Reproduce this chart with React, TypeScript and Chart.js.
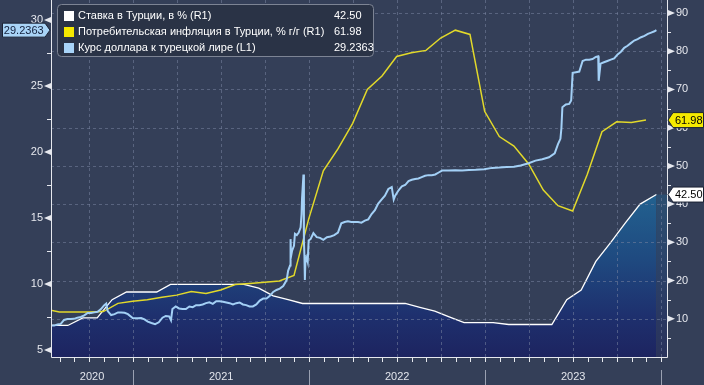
import React, { useEffect, useRef } from 'react';
import { Chart, registerables } from 'chart.js';

Chart.register(...registerables);

// ---------------- DATA ----------------
const seriesNames = [
  'Ставка в Турции, в % (R1)',
  'Потребительская инфляция в Турции, % г/г (R1)',
  'Курс доллара к турецкой лире (L1)',
];

const rateDates = [
  '2020-07-13', '2020-07-18', '2020-08-18', '2020-09-18', '2020-10-18', '2020-11-18', '2020-12-18',
  '2021-01-18', '2021-02-18', '2021-03-18', '2021-04-18', '2021-05-18', '2021-06-18', '2021-07-18',
  '2021-08-18', '2021-09-18', '2021-10-18', '2021-11-18', '2021-12-18',
  '2022-01-18', '2022-02-18', '2022-03-18', '2022-04-18', '2022-05-18', '2022-06-18', '2022-07-18',
  '2022-08-18', '2022-09-18', '2022-10-18', '2022-11-18', '2022-12-18',
  '2023-01-18', '2023-02-18', '2023-03-18', '2023-04-18', '2023-05-18', '2023-06-18', '2023-07-18',
  '2023-08-18', '2023-09-18', '2023-10-18', '2023-11-18', '2023-12-22',
];
const rateValues = [
  8.25, 8.25, 8.25, 10.25, 10.25, 15, 17,
  17, 17, 19, 19, 19, 19, 19,
  19, 18, 16, 15, 14,
  14, 14, 14, 14, 14, 14, 14,
  13, 12, 10.5, 9, 9,
  9, 8.5, 8.5, 8.5, 8.5, 15, 17.5,
  25, 30, 35, 40, 42.5,
];

const cpiDates = [
  '2020-06-30', '2020-07-31', '2020-08-31', '2020-09-30', '2020-10-31', '2020-11-30', '2020-12-31',
  '2021-01-31', '2021-02-28', '2021-03-31', '2021-04-30', '2021-05-31', '2021-06-30',
  '2021-07-31', '2021-08-31', '2021-09-30', '2021-10-31', '2021-11-30', '2021-12-31',
  '2022-01-31', '2022-02-28', '2022-03-31', '2022-04-30', '2022-05-31', '2022-06-30',
  '2022-07-31', '2022-08-31', '2022-09-30', '2022-10-31', '2022-11-30', '2022-12-31',
  '2023-01-31', '2023-02-28', '2023-03-31', '2023-04-30', '2023-05-31', '2023-06-30',
  '2023-07-31', '2023-08-31', '2023-09-30', '2023-10-31', '2023-11-30',
];
const cpiValues = [
  12.62, 11.76, 11.77, 11.75, 11.89, 14.03, 14.6,
  14.97, 15.61, 16.19, 17.14, 16.59, 17.53,
  18.95, 19.25, 19.58, 19.89, 21.31, 36.08,
  48.69, 54.44, 61.14, 69.97, 73.5, 78.62,
  79.6, 80.21, 83.45, 85.51, 84.39, 64.27,
  57.68, 55.18, 50.51, 43.68, 39.59, 38.21,
  47.83, 58.94, 61.53, 61.36, 61.98,
];

const usdDates = [
  '2020-07-13', '2020-07-20', '2020-07-27', '2020-08-03', '2020-08-10', '2020-08-17', '2020-08-24', '2020-08-31',
  '2020-09-07', '2020-09-14', '2020-09-21', '2020-09-28', '2020-10-05', '2020-10-12', '2020-10-19', '2020-10-26',
  '2020-11-02', '2020-11-06', '2020-11-09', '2020-11-16', '2020-11-23', '2020-11-30', '2020-12-07', '2020-12-14',
  '2020-12-21', '2020-12-31', '2021-01-11', '2021-01-18', '2021-01-25', '2021-02-01', '2021-02-08', '2021-02-15',
  '2021-02-22', '2021-03-01', '2021-03-08', '2021-03-15', '2021-03-19', '2021-03-22', '2021-03-29', '2021-04-05',
  '2021-04-12', '2021-04-19', '2021-04-26', '2021-05-03', '2021-05-10', '2021-05-17', '2021-05-24', '2021-05-31',
  '2021-06-07', '2021-06-14', '2021-06-21', '2021-06-28', '2021-07-05', '2021-07-12', '2021-07-19', '2021-07-26',
  '2021-08-02', '2021-08-09', '2021-08-16', '2021-08-23', '2021-08-30', '2021-09-06', '2021-09-13', '2021-09-20',
  '2021-09-27', '2021-10-04', '2021-10-11', '2021-10-18', '2021-10-25', '2021-11-01', '2021-11-08', '2021-11-15',
  '2021-11-18', '2021-11-22', '2021-11-23', '2021-11-24', '2021-11-26', '2021-11-30', '2021-12-02', '2021-12-06',
  '2021-12-10', '2021-12-14', '2021-12-16', '2021-12-17', '2021-12-20', '2021-12-21', '2021-12-22', '2021-12-23',
  '2021-12-24', '2021-12-27', '2021-12-29', '2021-12-31', '2022-01-04', '2022-01-10', '2022-01-17', '2022-01-24',
  '2022-01-31', '2022-02-07', '2022-02-14', '2022-02-21', '2022-02-28', '2022-03-07', '2022-03-14', '2022-03-21',
  '2022-03-28', '2022-04-04', '2022-04-11', '2022-04-18', '2022-04-25', '2022-05-02', '2022-05-09', '2022-05-16',
  '2022-05-23', '2022-05-30', '2022-06-06', '2022-06-13', '2022-06-20', '2022-06-24', '2022-06-27', '2022-07-04',
  '2022-07-11', '2022-07-18', '2022-07-25', '2022-08-01', '2022-08-08', '2022-08-15', '2022-08-22', '2022-08-29',
  '2022-09-05', '2022-09-12', '2022-09-19', '2022-09-26', '2022-10-03', '2022-10-17', '2022-10-31', '2022-11-14',
  '2022-11-28', '2022-12-12', '2022-12-30', '2023-01-16', '2023-01-31', '2023-02-14', '2023-02-28', '2023-03-14',
  '2023-03-31', '2023-04-14', '2023-04-28', '2023-05-12', '2023-05-24', '2023-05-31', '2023-06-05', '2023-06-07',
  '2023-06-09', '2023-06-16', '2023-06-23', '2023-06-27', '2023-06-30', '2023-07-07', '2023-07-14', '2023-07-21',
  '2023-07-28', '2023-08-04', '2023-08-11', '2023-08-18', '2023-08-23', '2023-08-24', '2023-08-28', '2023-09-04',
  '2023-09-11', '2023-09-18', '2023-09-25', '2023-10-02', '2023-10-09', '2023-10-16', '2023-10-23', '2023-10-30',
  '2023-11-06', '2023-11-13', '2023-11-20', '2023-11-27', '2023-12-04', '2023-12-11', '2023-12-18', '2023-12-22',
];
const usdValues = [
  6.86, 6.85, 6.93, 6.98, 7.28, 7.35, 7.35, 7.36,
  7.45, 7.5, 7.62, 7.8, 7.8, 7.85, 7.9, 8.1,
  8.4, 8.52, 7.95, 7.65, 7.72, 7.85, 7.85, 7.82,
  7.72, 7.43, 7.4, 7.42, 7.32, 7.15, 7.05, 6.96,
  7.1, 7.45, 7.58, 7.55, 7.25, 8.1, 8.3, 8.15,
  8.1, 8.1, 8.3, 8.25, 8.4, 8.4, 8.45, 8.55,
  8.62, 8.5, 8.7, 8.7, 8.65, 8.6, 8.55, 8.45,
  8.55, 8.6, 8.45, 8.4, 8.3, 8.3, 8.45, 8.75,
  8.9, 8.9, 9.1, 9.4, 9.55, 9.65, 9.85, 10.3,
  11.0, 11.4, 13.4, 12.1, 12.5, 12.9, 13.8, 13.7,
  13.9, 14.3, 15.3, 16.5, 18.3, 13.2, 12.2, 10.3,
  11.6, 12.0, 11.7, 13.3, 13.4, 13.85, 13.55, 13.5,
  13.35, 13.55, 13.6, 13.7, 13.9, 14.6, 14.7, 14.75,
  14.7, 14.7, 14.7, 14.65, 14.8, 14.9, 15.3, 15.6,
  16.1, 16.4, 16.7, 17.2, 17.35, 16.4, 16.7, 17.1,
  17.4, 17.5, 17.8, 17.9, 17.95, 18.0, 18.1, 18.2,
  18.25, 18.25, 18.3, 18.45, 18.6, 18.6, 18.62, 18.6,
  18.63, 18.65, 18.7, 18.8, 18.82, 18.86, 18.88, 18.98,
  19.15, 19.35, 19.45, 19.6, 19.9, 20.6, 21.0, 21.8,
  23.4, 23.6, 23.65, 23.9, 26.0, 26.05, 26.1, 26.9,
  27.0, 27.0, 27.05, 27.2, 27.25, 25.4, 26.7, 26.8,
  26.9, 27.0, 27.1, 27.4, 27.6, 27.9, 28.05, 28.25,
  28.45, 28.55, 28.7, 28.8, 28.95, 29.05, 29.15, 29.2363,
];

const leftTicks = [5, 10, 15, 20, 25, 30];
const leftMinorTicks = [7.5, 12.5, 17.5, 22.5, 27.5];
const rightTicks = [10, 20, 30, 40, 50, 60, 70, 80, 90];
const rightMinorTicks = [5, 15, 25, 35, 45, 55, 65, 75, 85];
const years = [2020, 2021, 2022, 2023];
const valueLabels = ['42.50', '61.98', '29.2363'];

// ---------------- HELPERS ----------------
// months since 2020-01-01 (fractional)
function toM(d: string): number {
  const [y, m, dd] = d.split('-').map(Number);
  const dim = new Date(y, m, 0).getDate();
  return (y - 2020) * 12 + (m - 1) + (dd - 1) / dim;
}
function pts(dates: string[], vals: number[]) {
  return dates.map((d, i) => ({ x: toM(d), y: vals[i] }));
}

const BG = '#343f58';
const GRID = 'rgba(120,132,160,0.55)';
const AXIS = '#e6e8ee';
const FONT = '11px "Liberation Sans", Arial, sans-serif';
const RATE_COL = '#ffffff';
const CPI_COL = '#e2d92a';
const USD_COL = '#a3d0f6';

function areaGradient(ctx: CanvasRenderingContext2D, top: number, bottom: number) {
  const g = ctx.createLinearGradient(0, top, 0, bottom);
  g.addColorStop(0, '#226290');
  g.addColorStop(0.4, '#1f4a80');
  g.addColorStop(0.75, '#1e306e');
  g.addColorStop(1, '#1d2460');
  return g;
}

const decor = {
  id: 'decor',
  beforeDraw(chart: any) {
    const { ctx, width, height } = chart;
    ctx.save();
    ctx.fillStyle = BG;
    ctx.fillRect(0, 0, width, height);
    ctx.restore();
  },
  afterDatasetDraw(chart: any, args: any) {
    if (args.index !== 2) return;
    const { ctx, chartArea: ca, scales } = chart;
    const x = scales.x, yR = scales.yR;
    ctx.save();
    // faint area continuation after last data point
    const lastX = x.getPixelForValue(toM(rateDates[rateDates.length - 1]));
    const lastY = yR.getPixelForValue(rateValues[rateValues.length - 1]);
    ctx.globalAlpha = 0.45;
    ctx.fillStyle = areaGradient(ctx, yR.getPixelForValue(43), ca.bottom);
    ctx.fillRect(lastX, lastY, ca.right - lastX, ca.bottom - lastY);
    ctx.globalAlpha = 1;
    // grid
    ctx.strokeStyle = GRID;
    ctx.lineWidth = 1;
    ctx.setLineDash([3, 3]);
    for (const v of rightTicks) {
      const py = Math.round(yR.getPixelForValue(v)) + 0.5;
      ctx.beginPath();
      ctx.moveTo(ca.left, py);
      ctx.lineTo(ca.right, py);
      ctx.stroke();
    }
    for (let m = 0; m <= 48; m += 3) {
      if (m < x.min || m > x.max) continue;
      const px = Math.round(x.getPixelForValue(m)) + 0.5;
      ctx.beginPath();
      ctx.moveTo(px, ca.top);
      ctx.lineTo(px, ca.bottom);
      ctx.stroke();
    }
    ctx.setLineDash([]);
    ctx.restore();
  },
  afterDatasetsDraw(chart: any) {
    const { ctx, chartArea: ca, scales } = chart;
    const x = scales.x, yL = scales.yL, yR = scales.yR;
    ctx.save();
    // axes
    ctx.strokeStyle = AXIS;
    ctx.lineWidth = 1;
    ctx.beginPath();
    ctx.moveTo(ca.left + 0.5, ca.top);
    ctx.lineTo(ca.left + 0.5, ca.bottom + 0.5);
    ctx.lineTo(ca.right + 0.5, ca.bottom + 0.5);
    ctx.lineTo(ca.right + 0.5, ca.top);
    ctx.stroke();

    ctx.font = FONT;
    ctx.fillStyle = AXIS;
    ctx.textBaseline = 'middle';
    // left ticks
    ctx.textAlign = 'right';
    for (const v of leftTicks) {
      const py = yL.getPixelForValue(v);
      ctx.beginPath();
      ctx.moveTo(ca.left, py - 3);
      ctx.lineTo(ca.left - 7, py);
      ctx.lineTo(ca.left, py + 3);
      ctx.closePath();
      ctx.fill();
      ctx.fillText(String(v), ca.left - 8, py);
    }
    for (const v of leftMinorTicks) {
      const py = Math.round(yL.getPixelForValue(v)) + 0.5;
      ctx.beginPath();
      ctx.moveTo(ca.left - 4, py);
      ctx.lineTo(ca.left, py);
      ctx.stroke();
    }
    // right ticks
    ctx.textAlign = 'left';
    for (const v of rightTicks) {
      const py = yR.getPixelForValue(v);
      ctx.beginPath();
      ctx.moveTo(ca.right + 1, py - 3);
      ctx.lineTo(ca.right + 8, py);
      ctx.lineTo(ca.right + 1, py + 3);
      ctx.closePath();
      ctx.fill();
      ctx.fillText(String(v), ca.right + 9, py);
    }
    for (const v of rightMinorTicks) {
      const py = Math.round(yR.getPixelForValue(v)) + 0.5;
      ctx.beginPath();
      ctx.moveTo(ca.right, py);
      ctx.lineTo(ca.right + 4, py);
      ctx.stroke();
    }
    // month ticks
    for (let m = 0; m <= 48; m++) {
      if (m < x.min || m > x.max) continue;
      const px = Math.round(x.getPixelForValue(m)) + 0.5;
      ctx.beginPath();
      ctx.moveTo(px, ca.bottom);
      ctx.lineTo(px, ca.bottom + 5);
      ctx.stroke();
    }
    // year separators & labels
    ctx.strokeStyle = '#9aa1b2';
    ctx.fillStyle = '#e2e5ec';
    ctx.textAlign = 'center';
    for (const yr of years) {
      const s = (yr - 2020) * 12, e = s + 12;
      const a = Math.max(s, x.min), b = Math.min(e, x.max);
      const cx = (x.getPixelForValue(a) + x.getPixelForValue(b)) / 2;
      ctx.fillText(String(yr), cx, 377);
      const px = Math.round(x.getPixelForValue(e)) + 0.5;
      ctx.beginPath();
      ctx.moveTo(px, 370);
      ctx.lineTo(px, 385);
      ctx.stroke();
    }

    // legend
    ctx.fillStyle = '#2a3346';
    ctx.strokeStyle = '#7d8494';
    ctx.beginPath();
    (ctx as any).roundRect(57.5, 4.5, 316, 52, 4);
    ctx.fill();
    ctx.stroke();
    const swatches = ['#ffffff', '#f5e800', '#a8d4f8'];
    ctx.textAlign = 'left';
    for (let i = 0; i < 3; i++) {
      const ry = 16 + i * 16;
      ctx.fillStyle = swatches[i];
      ctx.fillRect(64, ry - 5, 10, 10);
      ctx.fillStyle = '#ffffff';
      ctx.fillText(seriesNames[i], 78, ry);
      ctx.fillText(valueLabels[i], 334, ry);
    }

    // value tags
    const tagR = (py: number, text: string, bg: string, fg: string) => {
      const x0 = ca.right + 1;
      ctx.beginPath();
      ctx.moveTo(x0, py);
      ctx.lineTo(x0 + 5, py - 7.5);
      ctx.lineTo(703.5, py - 7.5);
      ctx.lineTo(703.5, py + 7.5);
      ctx.lineTo(x0 + 5, py + 7.5);
      ctx.closePath();
      ctx.fillStyle = bg;
      ctx.fill();
      ctx.strokeStyle = '#1b2233';
      ctx.stroke();
      ctx.fillStyle = fg;
      ctx.textAlign = 'left';
      ctx.fillText(text, x0 + 7, py + 0.5);
    };
    tagR(yR.getPixelForValue(cpiValues[cpiValues.length - 1]), valueLabels[1], '#f5ea00', '#000000');
    tagR(yR.getPixelForValue(rateValues[rateValues.length - 1]), valueLabels[0], '#ffffff', '#000000');
    // left tag
    const ly = yL.getPixelForValue(usdValues[usdValues.length - 1]);
    const xt = ca.left - 1;
    ctx.beginPath();
    ctx.moveTo(xt, ly);
    ctx.lineTo(xt - 5, ly - 7);
    ctx.lineTo(2.5, ly - 7);
    ctx.lineTo(2.5, ly + 7);
    ctx.lineTo(xt - 5, ly + 7);
    ctx.closePath();
    ctx.fillStyle = '#a9d4f7';
    ctx.fill();
    ctx.strokeStyle = '#1b2233';
    ctx.stroke();
    ctx.fillStyle = '#13203d';
    ctx.textAlign = 'center';
    ctx.fillText(valueLabels[2], (2.5 + xt - 5) / 2, ly + 0.5);
    ctx.restore();
  },
};

export default function App() {
  const ref = useRef<HTMLCanvasElement | null>(null);
  useEffect(() => {
    document.body.style.margin = '0';
    const canvas = ref.current!;
    const chart = new Chart(canvas, {
      type: 'line',
      data: {
        datasets: [
          {
            label: seriesNames[2],
            data: pts(usdDates, usdValues),
            yAxisID: 'yL',
            borderColor: USD_COL,
            borderWidth: 2,
            pointRadius: 0,
            fill: false,
            tension: 0,
          },
          {
            label: seriesNames[1],
            data: pts(cpiDates, cpiValues),
            yAxisID: 'yR',
            borderColor: CPI_COL,
            borderWidth: 1.5,
            pointRadius: 0,
            fill: false,
            tension: 0,
          },
          {
            label: seriesNames[0],
            data: pts(rateDates, rateValues),
            yAxisID: 'yR',
            borderColor: RATE_COL,
            borderWidth: 1.3,
            pointRadius: 0,
            tension: 0,
            fill: 'start',
            backgroundColor: (c: any) => {
              const ch = c.chart;
              const ca = ch.chartArea;
              if (!ca) return '#1e2a66';
              return areaGradient(ch.ctx, ch.scales.yR.getPixelForValue(43), ca.bottom);
            },
          },
        ],
      },
      options: {
        responsive: false,
        animation: false,
        events: [],
        layout: { padding: { left: 51, right: 37, top: 0, bottom: 28 } },
        plugins: { legend: { display: false }, tooltip: { enabled: false } },
        scales: {
          x: { type: 'linear', min: 6.4, max: 48.4, display: false },
          yL: { type: 'linear', position: 'left', min: 4.47, max: 31.52, display: false },
          yR: { type: 'linear', position: 'right', min: 0, max: 93.4, display: false },
        },
      },
      plugins: [decor],
    });
    return () => chart.destroy();
  }, []);
  return (
    <div style={{ position: 'absolute', left: 0, top: 0, width: 704, height: 385 }}>
      <canvas ref={ref} width={704} height={385} style={{ display: 'block' }} />
    </div>
  );
}
